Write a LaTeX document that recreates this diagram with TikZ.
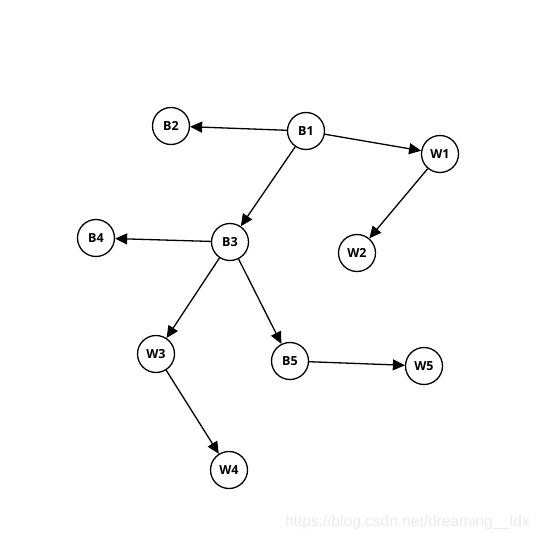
\documentclass[tikz,border=0pt]{standalone}
\usepackage{fontspec}
\setmainfont{Open Sans}
\usetikzlibrary{arrows.meta}
\begin{document}
\begin{tikzpicture}[x=1pt,y=-1pt,
  vtx/.style={circle,draw,line width=1.3pt,minimum size=37pt,inner sep=0pt,font=\fontsize{12.5}{14}\selectfont\bfseries},
  edge/.style={line width=1.3pt,-{Triangle[length=12pt,width=11pt]}}]
\useasboundingbox (0,0) rectangle (540,540);
\node[vtx] (B1) at (306,131) {B1};
\node[vtx] (B2) at (171,126) {B2};
\node[vtx] (W1) at (440,154) {W1};
\node[vtx] (B3) at (230,242) {B3};
\node[vtx] (B4) at (96,238) {B4};
\node[vtx] (W2) at (357,253) {W2};
\node[vtx] (W3) at (156,354) {W3};
\node[vtx] (B5) at (290,361) {B5};
\node[vtx] (W5) at (424,366) {W5};
\node[vtx] (W4) at (229,470) {W4};
\draw[edge] (B1) -- (B2);
\draw[edge] (B1) -- (W1);
\draw[edge] (B1) -- (B3);
\draw[edge] (W1) -- (W2);
\draw[edge] (B3) -- (B4);
\draw[edge] (B3) -- (W3);
\draw[edge] (B3) -- (B5);
\draw[edge] (W3) -- (W4);
\draw[edge] (B5) -- (W5);
\node[text=black!8,font=\fontsize{15.5}{17}\selectfont,anchor=east,inner sep=0pt] (wm) at (530,522) {\fontspec{Liberation Sans}https://blog.csdn.net/dreaming\_\_ldx};
\end{tikzpicture}
\end{document}
